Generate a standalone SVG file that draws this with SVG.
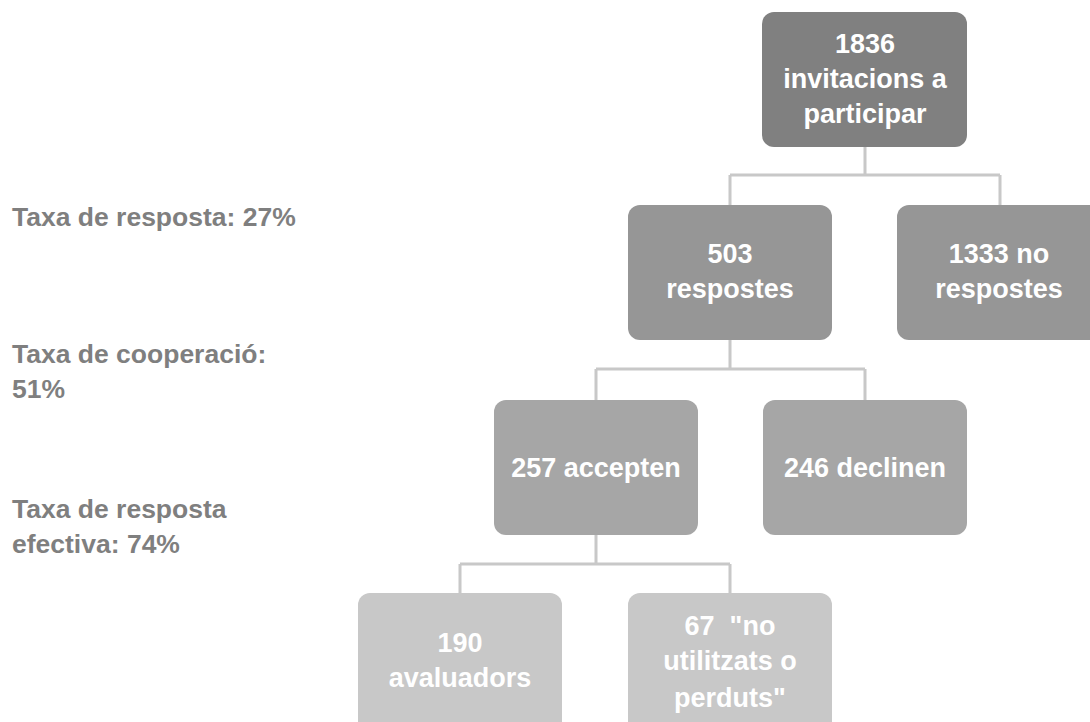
<svg xmlns="http://www.w3.org/2000/svg" width="1090" height="722" viewBox="0 0 1090 722">
<style>
.nt{font-family:"Liberation Sans",Arial,sans-serif;font-weight:bold;font-size:27px;fill:#ffffff;text-anchor:middle}
.lt{font-family:"Liberation Sans",Arial,sans-serif;font-weight:bold;font-size:26.5px;fill:#7f7f7f}
.c{fill:none;stroke:#c8c8c8;stroke-width:3}
.l1{fill:#808080}.l2{fill:#969696}.l3{fill:#a6a6a6}.l4{fill:#c8c8c8}
</style>
<rect width="1090" height="722" fill="#ffffff"/>
<g id="connectors">
<path class="c" d="M865 147 V175 M730 175 H1000 M730 175 V205 M1000 175 V205"/>
<path class="c" d="M730 340 V369 M596 369 H865 M596 369 V400 M865 369 V400"/>
<path class="c" d="M596 535 V564 M460 564 H730 M460 564 V593 M730 564 V593"/>
</g>
<g id="n1836"><rect class="l1" x="762" y="12" width="205" height="135" rx="12"/>
<text class="nt" x="865" y="53">1836</text><text class="nt" x="865" y="88">invitacions a</text><text class="nt" x="865" y="123">participar</text></g>
<g id="n503"><rect class="l2" x="628" y="205" width="204" height="135" rx="12"/>
<text class="nt" x="730" y="263">503</text><text class="nt" x="730" y="298">respostes</text></g>
<g id="n1333"><rect class="l2" x="897" y="205" width="204" height="135" rx="12"/>
<text class="nt" x="999" y="263">1333 no</text><text class="nt" x="999" y="298">respostes</text></g>
<g id="n257"><rect class="l3" x="494" y="400" width="204" height="135" rx="12"/>
<text class="nt" x="596" y="477">257 accepten</text></g>
<g id="n246"><rect class="l3" x="763" y="400" width="204" height="135" rx="12"/>
<text class="nt" x="865" y="477">246 declinen</text></g>
<g id="n190"><rect class="l4" x="358" y="593" width="204" height="140" rx="12"/>
<text class="nt" x="460" y="652">190</text><text class="nt" x="460" y="687">avaluadors</text></g>
<g id="n67"><rect class="l4" x="628" y="593" width="204" height="140" rx="12"/>
<text class="nt" x="730" y="635" xml:space="preserve">67  "no</text><text class="nt" x="730" y="670">utilitzats o</text><text class="nt" x="730" y="707">perduts"</text></g>
<g id="labels">
<text class="lt" x="12" y="226">Taxa de resposta: 27%</text>
<text class="lt" x="12" y="363">Taxa de cooperació:</text>
<text class="lt" x="12" y="398">51%</text>
<text class="lt" x="12" y="518">Taxa de resposta</text>
<text class="lt" x="12" y="553">efectiva: 74%</text>
</g>
</svg>
